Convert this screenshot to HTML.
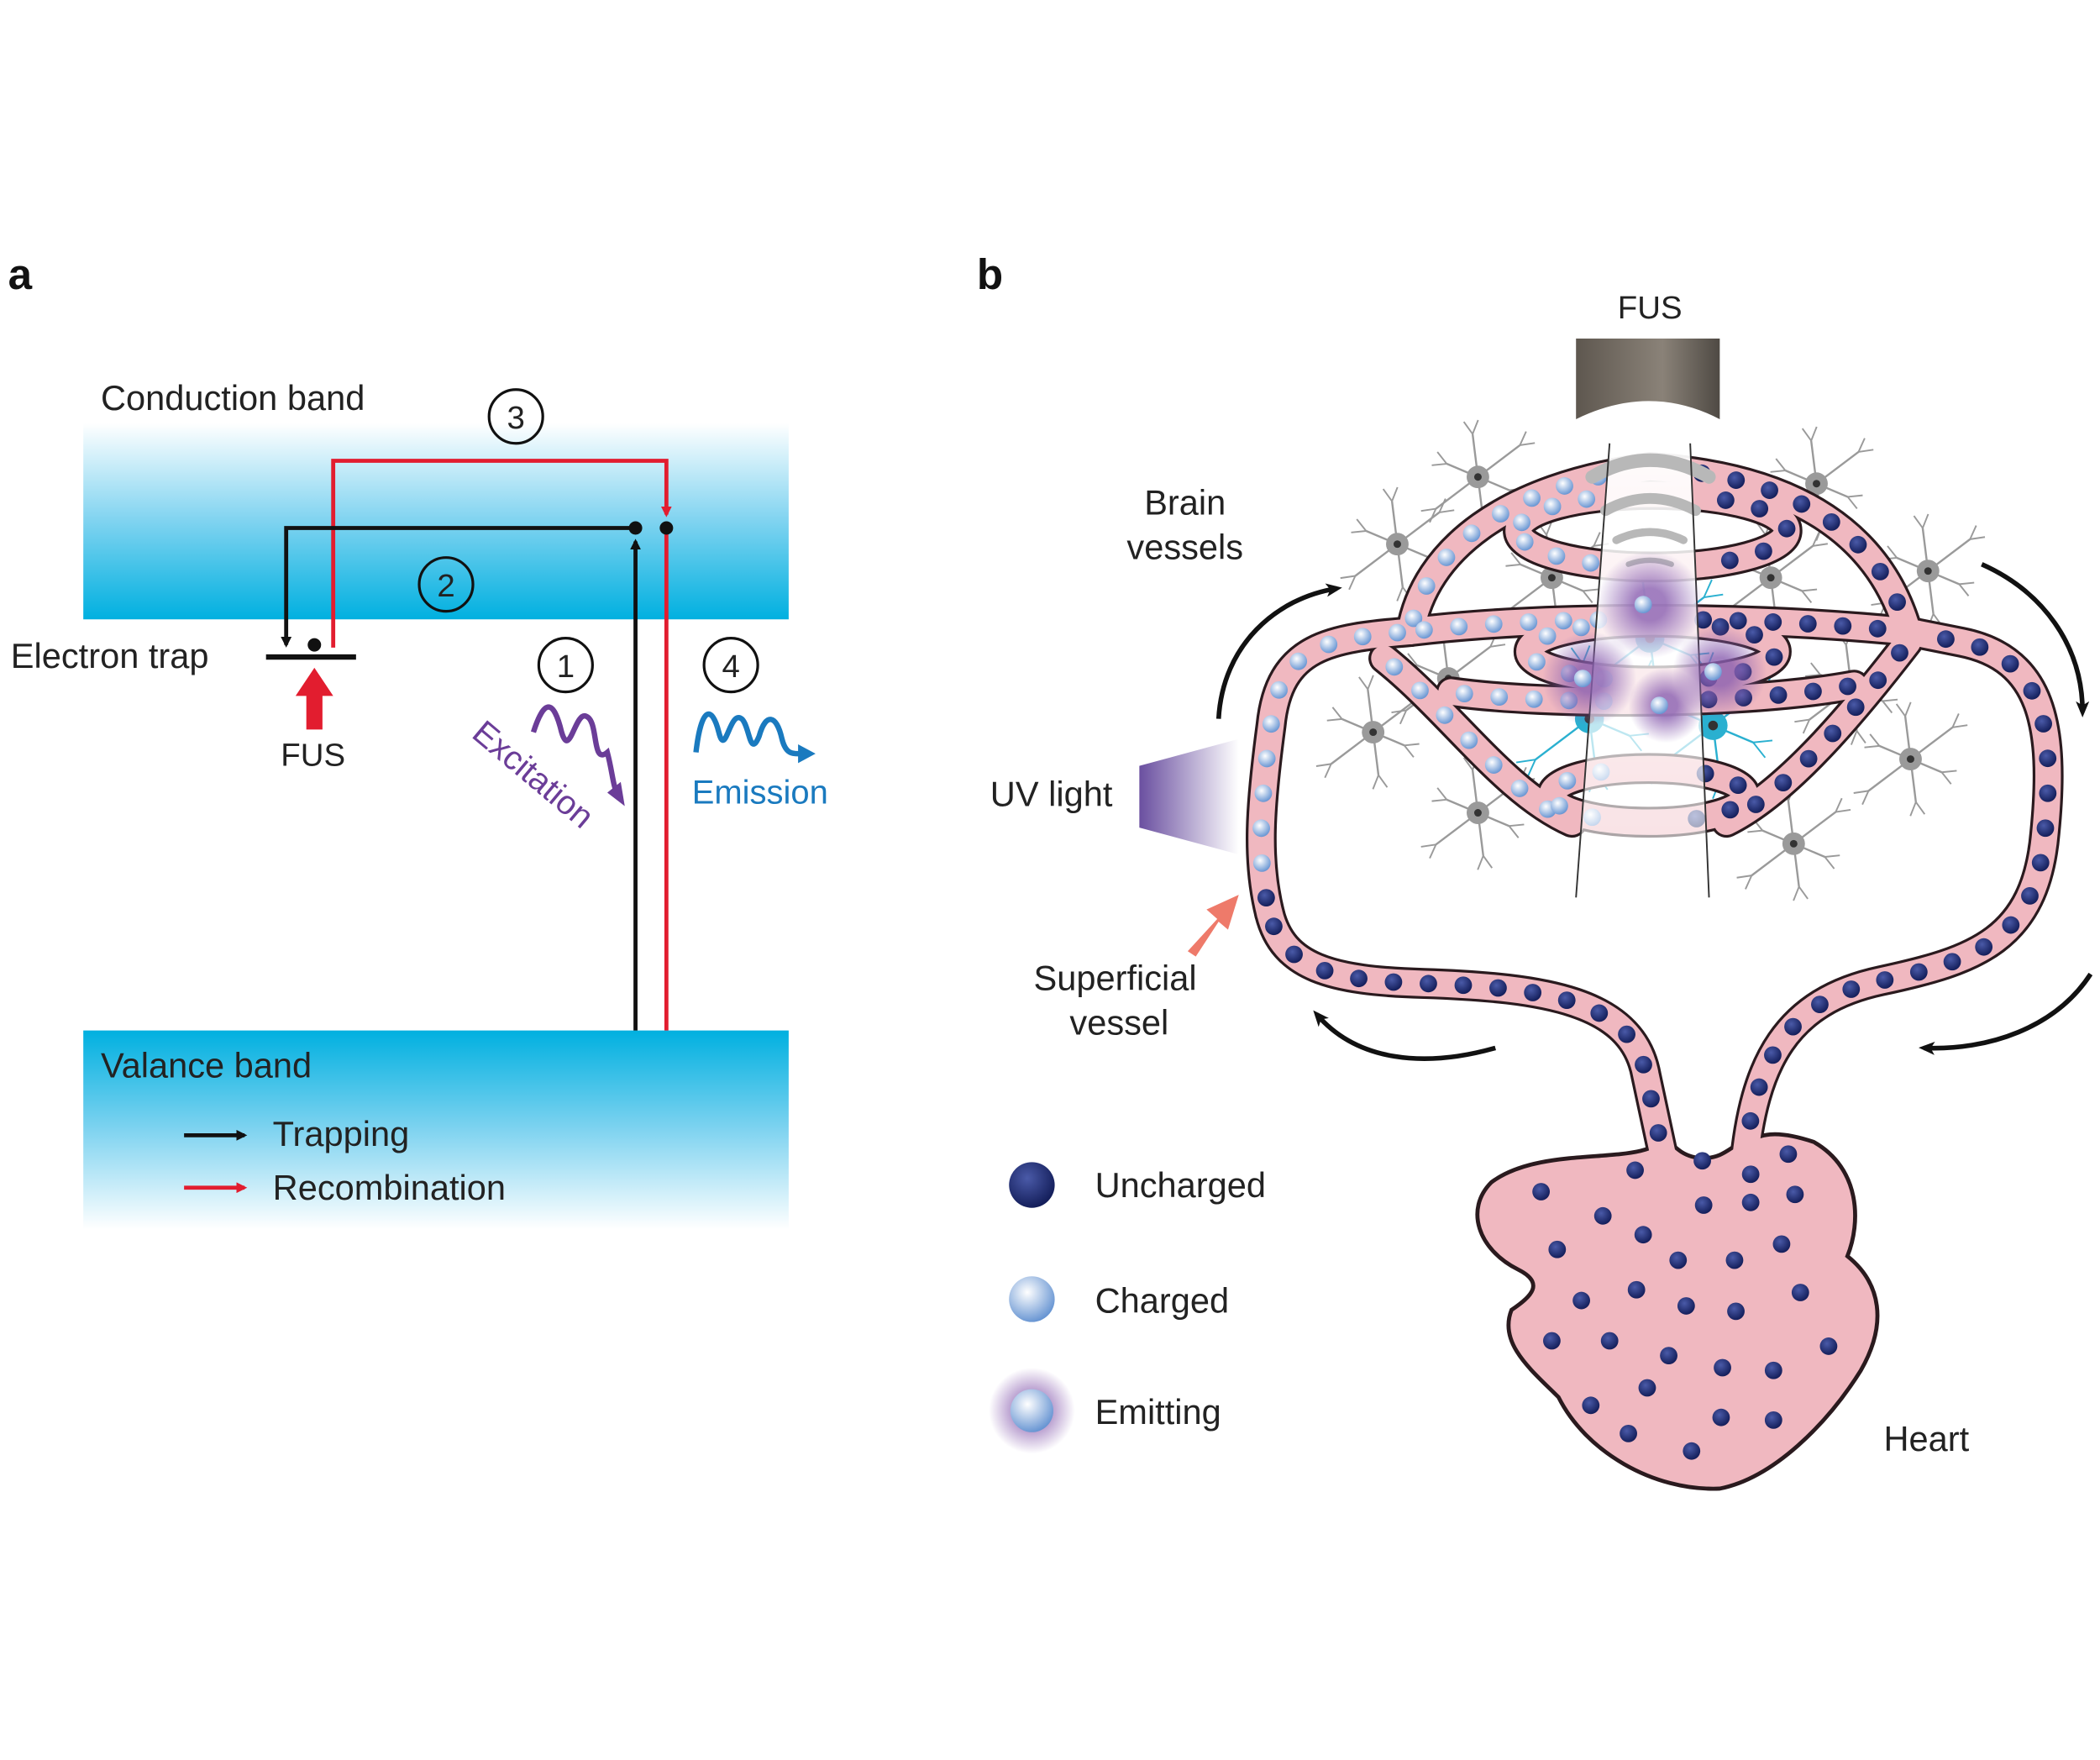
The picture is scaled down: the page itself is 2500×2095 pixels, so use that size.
<!DOCTYPE html>
<html><head><meta charset="utf-8"><style>
html,body{margin:0;padding:0;background:#fff}
svg{display:block}
text{font-family:"Liberation Sans",sans-serif;fill:#222}
</style></head><body>
<svg id="s" width="2500" height="2095" viewBox="0 0 1563 1310" preserveAspectRatio="none" xmlns="http://www.w3.org/2000/svg">
<defs>
<linearGradient id="cb" x1="0" y1="0" x2="0" y2="1"><stop offset="0" stop-color="#fff"/><stop offset="0.5" stop-color="#7fd3f0"/><stop offset="1" stop-color="#00b0e0"/></linearGradient>
<linearGradient id="vb" x1="0" y1="0" x2="0" y2="1"><stop offset="0" stop-color="#00b0e0"/><stop offset="0.5" stop-color="#7fd3f0"/><stop offset="1" stop-color="#fff"/></linearGradient>
<linearGradient id="tr" x1="0" y1="0" x2="1" y2="0"><stop offset="0" stop-color="#5e574f"/><stop offset="0.6" stop-color="#8a8278"/><stop offset="1" stop-color="#4f4a44"/></linearGradient>
<linearGradient id="uv" x1="0" y1="0" x2="1" y2="0"><stop offset="0" stop-color="#6a4fa0"/><stop offset="1" stop-color="#fff"/></linearGradient>
<linearGradient id="beam" x1="0" y1="0" x2="0" y2="1"><stop offset="0" stop-color="#fff" stop-opacity="0.95"/><stop offset="1" stop-color="#fff" stop-opacity="0.55"/></linearGradient>
<radialGradient id="dk" cx="0.4" cy="0.35" r="0.7"><stop offset="0" stop-color="#4a5aa8"/><stop offset="1" stop-color="#101a55"/></radialGradient>
<radialGradient id="lt" cx="0.4" cy="0.35" r="0.7"><stop offset="0" stop-color="#fff"/><stop offset="1" stop-color="#5f8fd0"/></radialGradient>
<radialGradient id="gl"><stop offset="0.3" stop-color="#8a5fb0" stop-opacity="0.8"/><stop offset="1" stop-color="#8a5fb0" stop-opacity="0"/></radialGradient>
<marker id="ab" markerWidth="8" markerHeight="8" refX="6" refY="4" orient="auto" markerUnits="userSpaceOnUse"><path d="M0,0 L8,4 L0,8 Z" fill="#111"/></marker>
<marker id="ar" markerWidth="8" markerHeight="8" refX="6" refY="4" orient="auto" markerUnits="userSpaceOnUse"><path d="M0,0 L8,4 L0,8 Z" fill="#e21d2f"/></marker>
<marker id="abig" markerWidth="14" markerHeight="14" refX="8" refY="7" orient="auto" markerUnits="userSpaceOnUse"><path d="M0,2 L12,7 L0,12 L3,7Z" fill="#111"/></marker>
</defs>

<!-- Panel a -->
<text x="6" y="215" style="font-weight:bold;font-size:32px;fill:#111">a</text>
<rect x="62" y="315" width="525" height="146" fill="url(#cb)"/>
<rect x="62" y="767" width="525" height="148" fill="url(#vb)"/>
<text x="75" y="305" font-size="26">Conduction band</text>
<text x="75" y="802" font-size="26">Valance band</text>
<circle cx="384" cy="310" r="20" fill="none" stroke="#111" stroke-width="2"/><text x="384" y="319" font-size="24" text-anchor="middle">3</text>
<circle cx="332" cy="435" r="20" fill="none" stroke="#111" stroke-width="2"/><text x="332" y="444" font-size="24" text-anchor="middle">2</text>
<circle cx="421" cy="495" r="20" fill="none" stroke="#111" stroke-width="2"/><text x="421" y="504" font-size="24" text-anchor="middle">1</text>
<circle cx="544" cy="495" r="20" fill="none" stroke="#111" stroke-width="2"/><text x="544" y="504" font-size="24" text-anchor="middle">4</text>
<path d="M248,482 V343 H496 V383" fill="none" stroke="#e21d2f" stroke-width="3" marker-end="url(#ar)"/>
<path d="M496,393 V767" fill="none" stroke="#e21d2f" stroke-width="3"/>
<path d="M473,767 V403" fill="none" stroke="#111" stroke-width="3" marker-end="url(#ab)"/>
<path d="M473,393 H213 V480" fill="none" stroke="#111" stroke-width="3" marker-end="url(#ab)"/>
<circle cx="473" cy="393" r="5" fill="#111"/><circle cx="496" cy="393" r="5" fill="#111"/><circle cx="234" cy="480" r="5" fill="#111"/>
<line x1="198" y1="489" x2="265" y2="489" stroke="#111" stroke-width="4"/>
<text x="8" y="497" font-size="26">Electron trap</text>
<path d="M228,543 V518 H220 L234,497 L248,518 H240 V543Z" fill="#e21d2f"/>
<text x="233" y="570" font-size="24" text-anchor="middle">FUS</text>
<path d="M397,545 C405,520 412,520 418,545 C424,565 428,530 436,533 C446,536 440,570 452,560 C456,575 456,585 460,592" fill="none" stroke="#6b3d98" stroke-width="4"/>
<path d="M452,590 L465,600 L462,582Z" fill="#6b3d98"/>
<text x="350" y="548" font-size="25" style="fill:#6b3d98" transform="rotate(40 350 548)">Excitation</text>
<path d="M518,560 C522,525 530,525 535,545 C540,565 543,528 552,535 C558,540 558,565 565,548 C570,530 578,532 582,550 C585,562 590,561 598,561" fill="none" stroke="#1a7abf" stroke-width="4"/>
<path d="M594,554 L607,561 L594,568Z" fill="#1a7abf"/>
<text x="515" y="598" font-size="25" style="fill:#1a7abf">Emission</text>
<line x1="137" y1="845" x2="182" y2="845" stroke="#111" stroke-width="3" marker-end="url(#ab)"/>
<line x1="137" y1="884" x2="182" y2="884" stroke="#e21d2f" stroke-width="3" marker-end="url(#ar)"/>
<text x="203" y="853" font-size="26">Trapping</text>
<text x="203" y="893" font-size="26">Recombination</text>

<!-- Panel b -->
<text x="727" y="215" style="font-weight:bold;font-size:32px;fill:#111">b</text>
<text x="1228" y="237" font-size="24" text-anchor="middle">FUS</text>
<path d="M1173,252 H1280 V312 Q1228,285 1173,312Z" fill="url(#tr)"/>
<g id="neur"></g>
<g id="ves"></g>
<polygon points="1198,330 1258,330 1272,668 1173,668" fill="url(#beam)"/>
<g fill="none" stroke="#b8b8b8" stroke-linecap="round">
<path d="M1185,355 Q1228,330 1272,355" stroke-width="10"/>
<path d="M1195,380 Q1228,362 1262,380" stroke-width="8"/>
<path d="M1203,402 Q1228,390 1253,402" stroke-width="6"/>
<path d="M1212,420 Q1228,414 1244,420" stroke-width="4"/>
</g>
<line x1="1198" y1="330" x2="1173" y2="668" stroke="#333" stroke-width="1.2"/>
<line x1="1258" y1="330" x2="1272" y2="668" stroke="#333" stroke-width="1.2"/>
<g id="glow"></g>
<polygon points="848,570 922,550 922,636 848,616" fill="url(#uv)"/>
<path d="M884,708 L906,684 L898,677 L922,666 L914,692 L907,686 L890,712Z" fill="#ee7a6a"/>
<g fill="none" stroke="#111" stroke-width="3.5">
<path d="M907,535 C910,480 950,445 995,438" marker-end="url(#abig)"/>
<path d="M1475,420 C1520,440 1550,480 1550,530" marker-end="url(#abig)"/>
<path d="M1556,725 C1530,765 1480,782 1432,780" marker-end="url(#abig)"/>
<path d="M1113,780 C1060,795 1010,790 980,755" marker-end="url(#abig)"/>
</g>
<text x="882" y="383" font-size="26" text-anchor="middle">Brain</text>
<text x="882" y="416" font-size="26" text-anchor="middle">vessels</text>
<text x="737" y="600" font-size="26">UV light</text>
<text x="830" y="737" font-size="26" text-anchor="middle">Superficial</text>
<text x="833" y="770" font-size="26" text-anchor="middle">vessel</text>
<text x="1402" y="1080" font-size="26">Heart</text>
<circle cx="768" cy="882" r="17" fill="url(#dk)"/>
<circle cx="768" cy="967" r="17" fill="url(#lt)"/>
<circle cx="768" cy="1050" r="32" fill="url(#gl)"/>
<circle cx="768" cy="1050" r="16" fill="url(#lt)"/>
<text x="815" y="891" font-size="26">Uncharged</text>
<text x="815" y="977" font-size="26">Charged</text>
<text x="815" y="1060" font-size="26">Emitting</text>
</svg>
<script>
(function(){
var NS="http://www.w3.org/2000/svg";
var ves=document.getElementById("ves"),neur=document.getElementById("neur"),glow=document.getElementById("glow");
function el(p,t,a){var e=document.createElementNS(NS,t);for(var k in a)e.setAttribute(k,a[k]);p.appendChild(e);return e;}
var gN=[[1100,355],[1040,405],[1155,430],[1352,360],[1435,425],[1318,430],[1078,505],[1022,545],[1378,512],[1422,565],[1100,605],[1335,628]];
var cN=[[1228,475],[1183,535],[1275,540]];
function neuron(x,y,c,sz){
 for(var i=0;i<6;i++){var a=i*Math.PI/3+0.4,L=sz*(0.9+0.5*((i*7)%3)/2);
  var x2=x+Math.cos(a)*L,y2=y+Math.sin(a)*L;
  el(neur,"line",{x1:x,y1:y,x2:x2,y2:y2,stroke:c,"stroke-width":1.5});
  el(neur,"line",{x1:x2,y1:y2,x2:x2+Math.cos(a+0.5)*sz*0.4,y2:y2+Math.sin(a+0.5)*sz*0.4,stroke:c,"stroke-width":1.2});
  el(neur,"line",{x1:x2,y1:y2,x2:x2+Math.cos(a-0.5)*sz*0.4,y2:y2+Math.sin(a-0.5)*sz*0.4,stroke:c,"stroke-width":1.2});
 }
 el(neur,"circle",{cx:x,cy:y,r:sz*0.3,fill:c});
 el(neur,"circle",{cx:x,cy:y,r:sz*0.1,fill:"#333"});
}
gN.forEach(function(p){neuron(p[0],p[1],"#9a9a9a",28);});
var paths=[
"M1050,470 C990,475 952,480 946,540 C938,600 935,640 945,680",
"M945,680 C955,720 990,730 1060,732 C1150,735 1215,745 1225,800 L1240,870",
"M1298,870 C1305,790 1330,745 1400,730 C1470,715 1515,700 1522,620 C1530,540 1520,490 1460,478 L1420,470",
"M1050,470 C1060,410 1120,362 1228,348 C1340,355 1400,400 1420,470",
"M1050,470 C1150,458 1300,458 1420,470",
"M1030,490 C1080,530 1120,590 1170,612",
"M1420,478 C1380,530 1330,590 1285,612",
"M1130,395 A100,27 0 1,0 1330,395 A100,27 0 1,0 1130,395",
"M1138,485 A92,22 0 1,0 1322,485 A92,22 0 1,0 1138,485",
"M1155,592 A72,20 0 1,0 1299,592 A72,20 0 1,0 1155,592",
"M1080,515 C1150,525 1300,525 1380,510"
];
var ps=[];
paths.forEach(function(d){ps.push(el(ves,"path",{d:d,fill:"none",stroke:"#2a1a1e","stroke-width":23,"stroke-linecap":"round"}));});
var heart="M1238,845 C1230,870 1150,850 1110,880 C1090,900 1100,930 1130,945 C1150,955 1140,965 1125,975 C1115,1000 1140,1020 1160,1040 C1180,1080 1230,1110 1280,1108 C1320,1100 1360,1060 1385,1020 C1405,985 1400,955 1375,935 C1385,910 1385,870 1350,850 C1320,840 1310,845 1300,850 C1290,850 1285,862 1268,862 C1252,862 1245,852 1238,845Z";
el(ves,"path",{d:heart,fill:"#f0b8c0",stroke:"#2a1a1e","stroke-width":3});
paths.forEach(function(d){el(ves,"path",{d:d,fill:"none",stroke:"#f0b8c0","stroke-width":19,"stroke-linecap":"round"});});
cN.forEach(function(p){neuron(p[0],p[1],"#2ab0d0",36);});
ps.forEach(function(p,i){
 var L=p.getTotalLength();
 for(var s=10;s<L-4;s+=26){var pt=p.getPointAtLength(s);
  if(pt.y>855)continue;
  var light=pt.x<1225&&!(pt.y>665);
  if(pt.x>1195&&pt.x<1262&&pt.y<640)continue;
  el(ves,"circle",{cx:pt.x,cy:pt.y,r:6.5,fill:light?"url(#lt)":"url(#dk)"});}
});
var hd=[[1147,887],[1217,871],[1267,864],[1303,874],[1331,859],[1193,905],[1223,919],[1268,897],[1303,895],[1336,889],[1159,930],[1249,938],[1291,938],[1326,926],[1177,968],[1218,960],[1255,972],[1292,976],[1340,962],[1155,998],[1198,998],[1242,1009],[1282,1018],[1320,1020],[1361,1002],[1184,1046],[1226,1033],[1281,1055],[1320,1057],[1212,1067],[1259,1080]];
hd.forEach(function(p){el(ves,"circle",{cx:p[0],cy:p[1],r:6.5,fill:"url(#dk)"});});
[[1228,450,40],[1183,505,35],[1280,500,35],[1240,525,28]].forEach(function(g){el(glow,"circle",{cx:g[0],cy:g[1],r:g[2],fill:"url(#gl)"});el(glow,"circle",{cx:g[0]-5,cy:g[1],r:6.5,fill:"url(#lt)"});});
})();
</script>
</body></html>
